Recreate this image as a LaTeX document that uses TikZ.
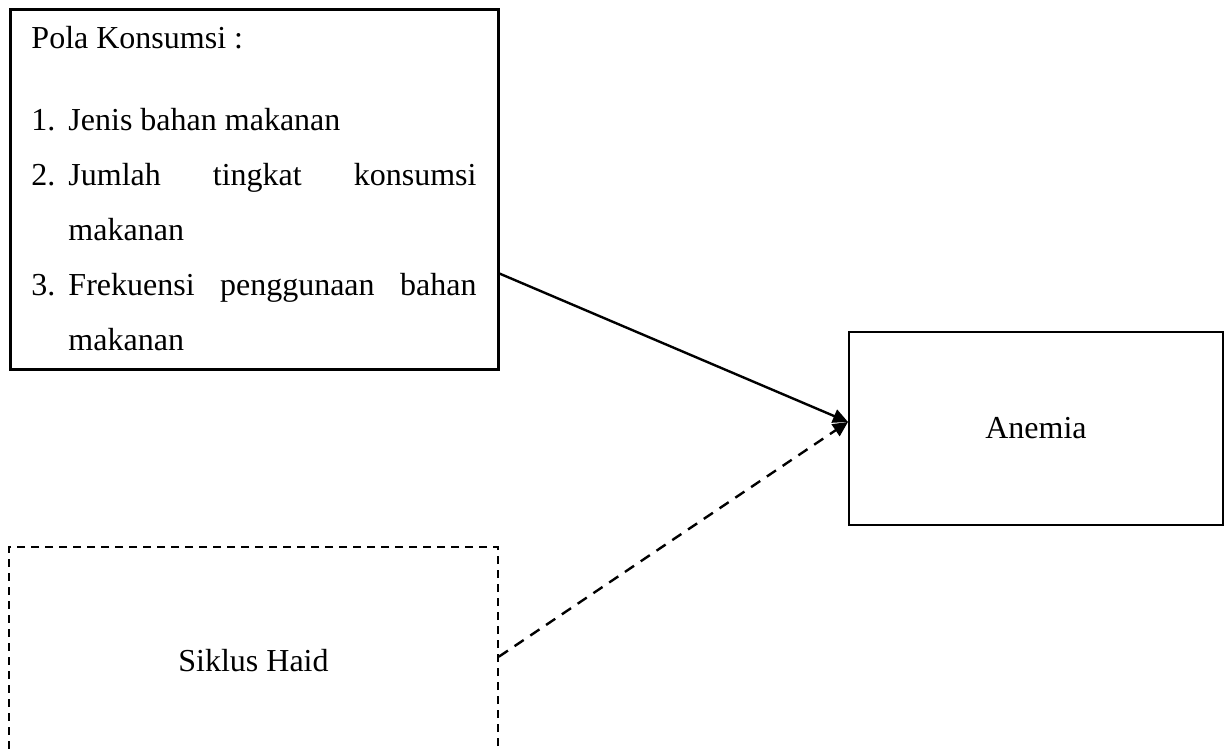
\documentclass[tikz,border=0pt]{standalone}
\usepackage{fontspec}
\setmainfont{Liberation Serif}
\usetikzlibrary{arrows.meta}
\newcommand\boxFont{\fontsize{16}{27.5}\selectfont}
\newcommand\itemW{18.5pt}
\newcommand\listItem[2]{\noindent\hangindent=\itemW\hangafter=1\makebox[\itemW][l]{#1}#2\par}
\newcommand\arrowTip{Triangle[length=7.5pt, width=7pt]}

\begin{document}
\begin{tikzpicture}[x=0.5pt, y=-0.5pt,
        every node/.style={font=\boxFont},
        link/.style={-{\arrowTip}, line width=1.2pt}]
        \useasboundingbox (0,0) rectangle (1232,751);
        \clip (0,0) rectangle (1232,751);

        \node[draw, line width=1.5pt, minimum width=244pt, minimum height=180pt,
            text width=222.5pt, align=justify, inner sep=0pt] (pola) at (254,189) {%
            \noindent Pola Konsumsi :\par\vspace{13.5pt}
            \listItem{1.}{Jenis bahan makanan}
            \listItem{2.}{Jumlah tingkat konsumsi\linebreak makanan}
            \listItem{3.}{Frekuensi penggunaan bahan\linebreak makanan}};

        \node[draw, line width=0.8pt, dash pattern=on 4pt off 3pt,
            minimum width=244.5pt, minimum height=114pt] (siklus) at (253.5,661) {Siklus Haid};

        \node[draw, line width=1pt, minimum width=187pt, minimum height=96.5pt] (anemia) at (1036,428.5) {Anemia};

        \draw[link] (pola.-19.2) -- (anemia.178.3);
        \draw[link, dash pattern=on 5.5pt off 4pt] (siklus.1.4) -- (anemia.178.3);

    \end{tikzpicture}
\end{document}
